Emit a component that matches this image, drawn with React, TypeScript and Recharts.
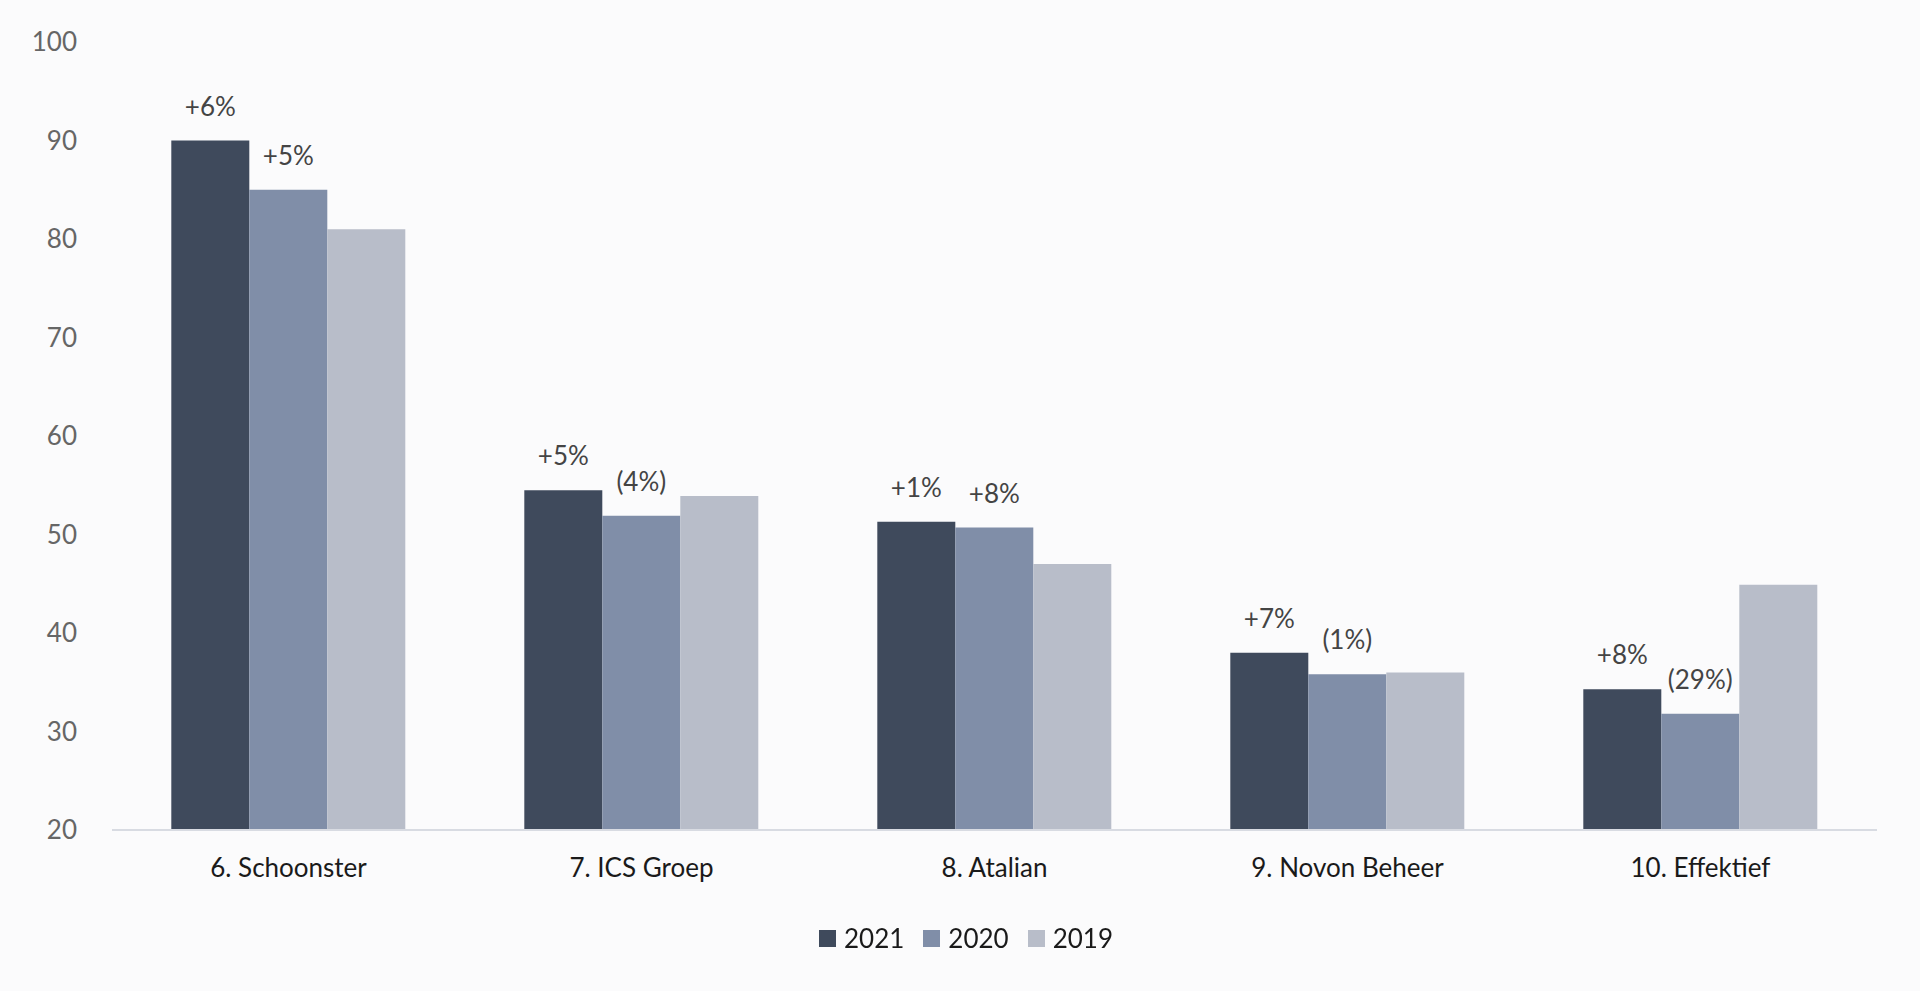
import { Bar, BarChart, LabelList, XAxis, YAxis } from "recharts";

const companies = ["6. Schoonster", "7. ICS Groep", "8. Atalian", "9. Novon Beheer", "10. Effektief"];
const values2021 = [90, 54.5, 51.3, 38, 34.3];
const values2020 = [85, 51.9, 50.7, 35.8, 31.8];
const values2019 = [81, 53.9, 47, 36, 44.9];
const labels2021 = ["+6%", "+5%", "+1%", "+7%", "+8%"];
const labels2020 = ["+5%", "(4%)", "+8%", "(1%)", "(29%)"];
const yTicks = [20, 30, 40, 50, 60, 70, 80, 90, 100];

const series = [
  { key: "y2021", name: "2021", color: "#3f4a5c" },
  { key: "y2020", name: "2020", color: "#808ea8" },
  { key: "y2019", name: "2019", color: "#b8bdc9" },
];

const data = companies.map((name, i) => ({
  name,
  y2021: values2021[i],
  y2020: values2020[i],
  y2019: values2019[i],
  l2021: labels2021[i],
  l2020: labels2020[i],
}));

const FONT = "Lato, 'Noto Sans', sans-serif";

function ChangeLabel(props: any) {
  const { x, y, width, value } = props;
  if (x == null || y == null) return null;
  return (
    <text x={x + width / 2} y={y - 25} textAnchor="middle" fill="#444" fontSize={26} fontFamily={FONT}>
      {value}
    </text>
  );
}

function YearLegend() {
  return (
    <div
      style={{
        position: "absolute",
        top: 922,
        left: 6,
        width: 1920,
        display: "flex",
        justifyContent: "center",
        gap: 19,
        fontFamily: FONT,
        fontSize: 26,
        color: "#1a1a1a",
      }}
    >
      {series.map((s) => (
        <div key={s.key} style={{ display: "flex", alignItems: "center", gap: 8 }}>
          <span style={{ display: "inline-block", width: 17, height: 17, background: s.color }} />
          <span>{s.name}</span>
        </div>
      ))}
    </div>
  );
}

export default function App() {
  return (
    <div style={{ position: "fixed", left: 0, top: 0, width: 1920, height: 991, background: "#fbfbfc" }}>
      <BarChart
        width={1920}
        height={991}
        data={data}
        margin={{ top: 42, right: 43, left: 0, bottom: 131 }}
        barCategoryGap="16.8%"
        barGap={0}
      >
        <XAxis
          dataKey="name"
          height={30}
          tickLine={false}
          tickMargin={23}
          axisLine={{ stroke: "#d8dbe2", strokeWidth: 2 }}
          tick={{ fill: "#1a1a1a", fontSize: 26, fontFamily: FONT }}
          interval={0}
        />
        <YAxis
          width={112}
          domain={[20, 100]}
          ticks={yTicks}
          tickLine={false}
          axisLine={false}
          tickMargin={29}
          tick={{ fill: "#666", fontSize: 26, fontFamily: FONT }}
        />
        <Bar dataKey="y2021" name="2021" fill="#3f4a5c" isAnimationActive={false}>
          <LabelList dataKey="l2021" content={<ChangeLabel />} />
        </Bar>
        <Bar dataKey="y2020" name="2020" fill="#808ea8" isAnimationActive={false}>
          <LabelList dataKey="l2020" content={<ChangeLabel />} />
        </Bar>
        <Bar dataKey="y2019" name="2019" fill="#b8bdc9" isAnimationActive={false} />
      </BarChart>
      <YearLegend />
    </div>
  );
}
